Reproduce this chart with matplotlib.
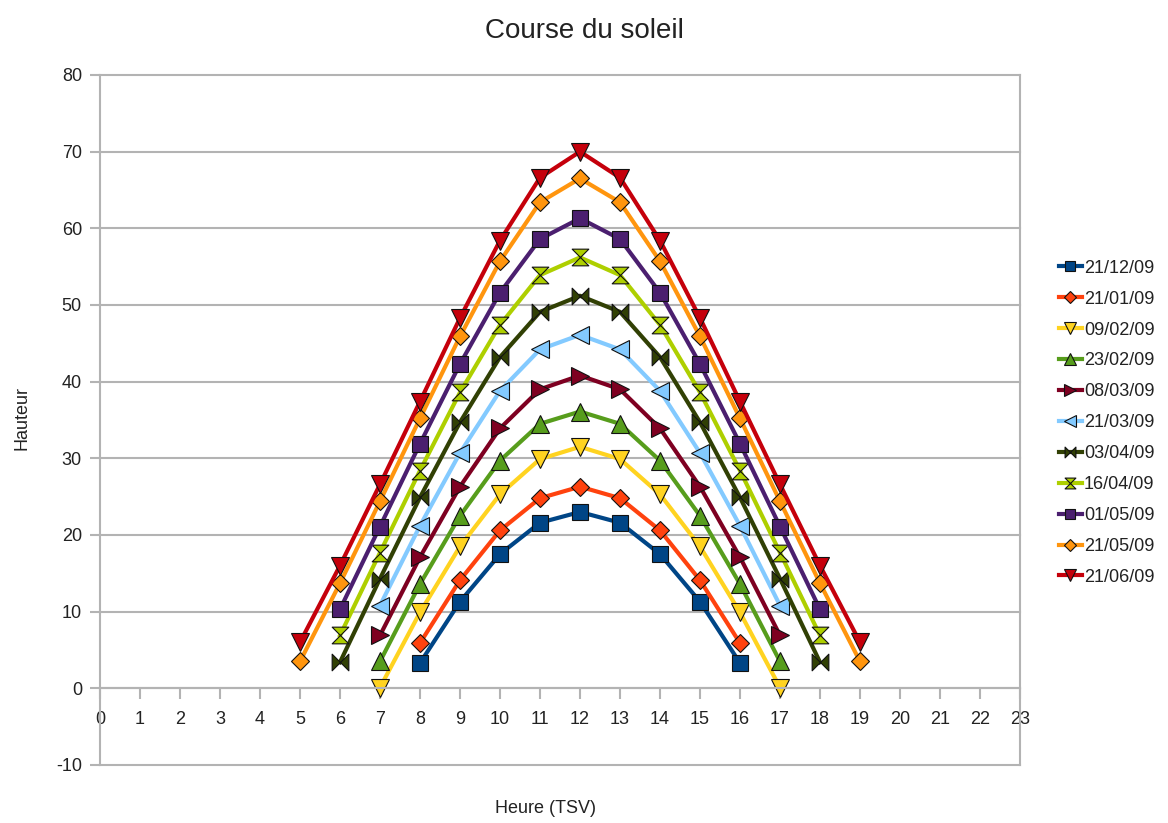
import matplotlib
matplotlib.use("Agg")
import numpy as np
from matplotlib import pyplot as plt
from matplotlib.path import Path

plt.rcParams['font.family'] = ['Liberation Sans', 'DejaVu Sans']
plt.rcParams['axes.unicode_minus'] = False

# data: hour (TSV) -> sun height (degrees)
dates = ["21/12/09", "21/01/09", "09/02/09", "23/02/09", "08/03/09", "21/03/09",
         "03/04/09", "16/04/09", "01/05/09", "21/05/09", "21/06/09"]

h_dec = [8, 9, 10, 11, 12, 13, 14, 15, 16]
v_dec = [3.3, 11.3, 17.5, 21.6, 23.0, 21.6, 17.5, 11.3, 3.3]

h_jan = [8, 9, 10, 11, 12, 13, 14, 15, 16]
v_jan = [5.9, 14.1, 20.6, 24.8, 26.3, 24.8, 20.6, 14.1, 5.9]

h_feb1 = [7, 8, 9, 10, 11, 12, 13, 14, 15, 16, 17]
v_feb1 = [0.1, 9.9, 18.5, 25.3, 29.9, 31.5, 29.9, 25.3, 18.5, 9.9, 0.1]

h_feb2 = [7, 8, 9, 10, 11, 12, 13, 14, 15, 16, 17]
v_feb2 = [3.5, 13.6, 22.5, 29.7, 34.5, 36.1, 34.5, 29.7, 22.5, 13.6, 3.5]

h_mar1 = [7, 8, 9, 10, 11, 12, 13, 14, 15, 16, 17]
v_mar1 = [6.9, 17.1, 26.3, 33.9, 39.0, 40.8, 39.0, 33.9, 26.3, 17.1, 6.9]

h_mar2 = [7, 8, 9, 10, 11, 12, 13, 14, 15, 16, 17]
v_mar2 = [10.8, 21.2, 30.7, 38.8, 44.2, 46.1, 44.2, 38.8, 30.7, 21.2, 10.8]

h_apr1 = [6, 7, 8, 9, 10, 11, 12, 13, 14, 15, 16, 17, 18]
v_apr1 = [3.4, 14.3, 24.9, 34.7, 43.2, 49.1, 51.2, 49.1, 43.2, 34.7, 24.9, 14.3, 3.4]

h_apr2 = [6, 7, 8, 9, 10, 11, 12, 13, 14, 15, 16, 17, 18]
v_apr2 = [6.9, 17.7, 28.4, 38.6, 47.4, 53.9, 56.2, 53.9, 47.4, 38.6, 28.4, 17.7, 6.9]

h_may1 = [6, 7, 8, 9, 10, 11, 12, 13, 14, 15, 16, 17, 18]
v_may1 = [10.3, 21.1, 31.9, 42.3, 51.6, 58.6, 61.3, 58.6, 51.6, 42.3, 31.9, 21.1, 10.3]

h_may2 = [5, 6, 7, 8, 9, 10, 11, 12, 13, 14, 15, 16, 17, 18, 19]
v_may2 = [3.5, 13.7, 24.4, 35.2, 45.9, 55.7, 63.4, 66.5, 63.4, 55.7, 45.9, 35.2, 24.4, 13.7, 3.5]

h_jun = [5, 6, 7, 8, 9, 10, 11, 12, 13, 14, 15, 16, 17, 18, 19]
v_jun = [6.0, 16.0, 26.6, 37.4, 48.3, 58.4, 66.6, 70.0, 66.6, 58.4, 48.3, 37.4, 26.6, 16.0, 6.0]

hours = [h_dec, h_jan, h_feb1, h_feb2, h_mar1, h_mar2, h_apr1, h_apr2, h_may1, h_may2, h_jun]
heights = [v_dec, v_jan, v_feb1, v_feb2, v_mar1, v_mar2, v_apr1, v_apr2, v_may1, v_may2, v_jun]

colors = ["#004586", "#ff420e", "#ffd320", "#579d1c", "#7e0021", "#83caff",
          "#314004", "#aecf00", "#4b1f6f", "#ff950e", "#c5000b"]

# bowtie and hourglass markers
bowtie = Path([(-1, -1), (1, 1), (1, -1), (-1, 1), (-1, -1)],
              [Path.MOVETO, Path.LINETO, Path.LINETO, Path.LINETO, Path.CLOSEPOLY])
hourglass = Path([(-1, 1), (1, 1), (-1, -1), (1, -1), (-1, 1)],
                 [Path.MOVETO, Path.LINETO, Path.LINETO, Path.LINETO, Path.CLOSEPOLY])
markers = ["s", "D", "v", "^", ">", "<", bowtie, hourglass, "s", "D", "v"]
msizes = [12, 9, 13, 13, 13, 13, 12, 12, 12, 9, 13]

fig = plt.figure(figsize=(11.68, 8.23), dpi=100)
ax = fig.add_axes([0.0856, 0.0705, 0.7877, 0.8384])

for hx, hy, col, mk, ms, lab in zip(hours, heights, colors, markers, msizes, dates):
    ax.plot(hx, hy, color=col, lw=3, marker=mk, markersize=ms,
            markerfacecolor=col, markeredgecolor="#111111", markeredgewidth=0.8,
            label=lab, clip_on=False)

grey = "#b3b3b3"
ax.set_xlim(0, 23)
ax.set_ylim(-10, 80)
ax.set_xticks(np.arange(0, 24, 1))
ax.set_yticks(np.arange(-10, 81, 10))
ax.yaxis.grid(True, color=grey, lw=1.5, clip_on=False)
ax.set_axisbelow(True)

ax.spines['top'].set_visible(False)
ax.spines['bottom'].set_position(('data', 0))
for s in ['left', 'right', 'bottom']:
    ax.spines[s].set_color(grey)
    ax.spines[s].set_linewidth(1.5)

ax.tick_params(axis='x', direction='out', length=8, width=1.5, color=grey,
               pad=8, labelsize=13, labelcolor="#222222")
ax.tick_params(axis='y', direction='out', length=7, width=1.5, color=grey,
               pad=6, labelsize=13, labelcolor="#222222")

fig.suptitle("Course du soleil", x=0.5, y=0.978, fontsize=20, color="#222222")
fig.text(0.467, 0.018, "Heure (TSV)", ha='center', va='center', fontsize=13, color="#222222")
fig.text(0.019, 0.492, "Hauteur", ha='center', va='center', rotation=90, fontsize=13, color="#222222")

leg = ax.legend(loc='center left', bbox_to_anchor=(1.042, 0.496), frameon=False,
                fontsize=13, handlelength=1.3, handletextpad=0.1, labelspacing=0.77,
                markerscale=0.65, borderpad=0, borderaxespad=0)
for t in leg.get_texts():
    t.set_color("#222222")

plt.savefig("out.png", dpi=100)
